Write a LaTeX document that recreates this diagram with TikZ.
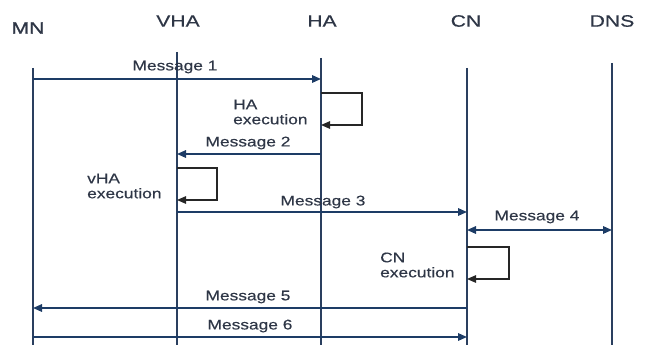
\documentclass[tikz,border=0pt]{standalone}
\usepackage{fontspec}
\setmainfont{Liberation Sans}
\newfontfamily\diagfont[FakeStretch=1.24,FakeBold=0.3]{Liberation Sans}
\newfontfamily\headfont[FakeStretch=1.28,FakeBold=0.5]{Liberation Sans}
\newfontfamily\headboldfont[FakeStretch=1.28,FakeBold=1.4]{Liberation Sans}
\usetikzlibrary{arrows.meta}
\definecolor{lifecol}{HTML}{2A3F5F}
\definecolor{msgcol}{HTML}{1D3C66}
\definecolor{txtcol}{HTML}{2E3646}
\tikzset{
  header/.style={font=\headfont\fontsize{16.5}{18}\selectfont, text=txtcol, inner sep=0pt},
  lifeline/.style={draw=lifecol, line width=1.1pt},
  msg/.style={draw=msgcol, line width=1.6pt, -{Triangle[length=9pt,width=7.5pt]}},
  dmsg/.style={draw=msgcol, line width=1.6pt, {Triangle[length=9pt,width=7.5pt]}-{Triangle[length=9pt,width=7.5pt]}},
  msglabel/.style={font=\diagfont\fontsize{14}{15}\selectfont, text=txtcol, inner sep=0pt},
  loop/.style={draw=black!85, line width=1.3pt, -{Triangle[length=9pt,width=7.5pt]}},
  execlabel/.style={font=\diagfont\fontsize{14}{15}\selectfont, text=txtcol, inner sep=0pt, align=left, anchor=west},
}
\begin{document}
\begin{tikzpicture}[x=1pt,y=-1pt]
\useasboundingbox (0,0) rectangle (645,345);
% headers
\node[header, font=\headboldfont\fontsize{16.5}{18}\selectfont] (hMN) at (28,28) {MN};
\node[header] (hVHA) at (178,21) {VHA};
\node[header] (hHA) at (322,21) {HA};
\node[header] (hCN) at (466,21) {CN};
\node[header] (hDNS) at (612,21) {DNS};
% lifelines
\coordinate (tMN) at (33,68);   \coordinate (bMN) at (33,345);
\coordinate (tVHA) at (177,52); \coordinate (bVHA) at (177,345);
\coordinate (tHA) at (321,58);  \coordinate (bHA) at (321,345);
\coordinate (tCN) at (467,68);  \coordinate (bCN) at (467,345);
\coordinate (tDNS) at (612,63); \coordinate (bDNS) at (612,345);
\draw[lifeline] (tMN) -- (bMN);
\draw[lifeline] (tVHA) -- (bVHA);
\draw[lifeline] (tHA) -- (bHA);
\draw[lifeline] (tCN) -- (bCN);
\draw[lifeline] (tDNS) -- (bDNS);
% Message 1
\coordinate (m1a) at (33,79); \coordinate (m1b) at (321,79);
\draw[msg] (m1a) -- (m1b);
\node[msglabel] (l1) at (175,67) {Message 1};
% HA execution
\coordinate (ha1) at (321,93); \coordinate (ha2) at (362,93);
\coordinate (ha3) at (362,125); \coordinate (ha4) at (321,125);
\draw[loop] (ha1) -- (ha2) -- (ha3) -- (ha4);
\node[execlabel] (lha) at (233,112) {HA\\execution};
% Message 2
\coordinate (m2a) at (321,154); \coordinate (m2b) at (177,154);
\draw[msg] (m2a) -- (m2b);
\node[msglabel] (l2) at (248,143) {Message 2};
% vHA execution
\coordinate (va1) at (177,168); \coordinate (va2) at (217,168);
\coordinate (va3) at (217,200); \coordinate (va4) at (177,200);
\draw[loop] (va1) -- (va2) -- (va3) -- (va4);
\node[execlabel] (lva) at (87,186) {vHA\\execution};
% Message 3
\coordinate (m3a) at (177,212); \coordinate (m3b) at (467,212);
\draw[msg] (m3a) -- (m3b);
\node[msglabel] (l3) at (323,202) {Message 3};
% Message 4
\coordinate (m4a) at (467,230); \coordinate (m4b) at (612,230);
\draw[dmsg] (m4a) -- (m4b);
\node[msglabel] (l4) at (537,217) {Message 4};
% CN execution
\coordinate (cn1) at (467,247); \coordinate (cn2) at (509,247);
\coordinate (cn3) at (509,279); \coordinate (cn4) at (467,279);
\draw[loop] (cn1) -- (cn2) -- (cn3) -- (cn4);
\node[execlabel] (lcn) at (380,265) {CN\\execution};
% Message 5
\coordinate (m5a) at (467,308); \coordinate (m5b) at (33,308);
\draw[msg] (m5a) -- (m5b);
\node[msglabel] (l5) at (248,297) {Message 5};
% Message 6
\coordinate (m6a) at (33,337); \coordinate (m6b) at (467,337);
\draw[msg] (m6a) -- (m6b);
\node[msglabel] (l6) at (250,326) {Message 6};
\end{tikzpicture}
\end{document}
